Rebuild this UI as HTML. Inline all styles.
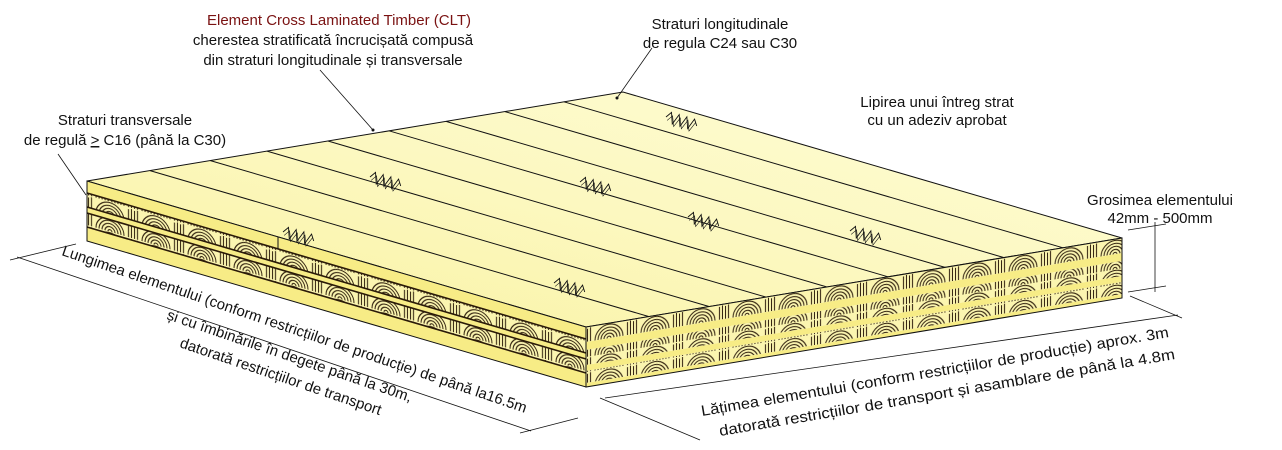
<!DOCTYPE html>
<html><head><meta charset="utf-8"><style>
html,body{margin:0;padding:0;background:#fff;}
svg{display:block;}
text{font-family:"Liberation Sans",sans-serif;font-size:15px;fill:#111;}
</style></head><body>
<svg width="1282" height="450" viewBox="0 0 1282 450" xmlns="http://www.w3.org/2000/svg">
<defs>
<linearGradient id="topg" x1="0" y1="1" x2="1" y2="0">
<stop offset="0" stop-color="#f9f2a0"/><stop offset="0.5" stop-color="#fcf8c0"/><stop offset="1" stop-color="#fefcd6"/>
</linearGradient>
<pattern id="rl" width="46" height="15" patternUnits="userSpaceOnUse" patternTransform="translate(87,195) skewY(16.3)">
<rect width="46" height="15" fill="#fbf5b0"/>
<g fill="none" stroke="#2a1a08" stroke-width="1">
<path d="M9 15 A14 14 0 0 1 37 15 M12 15 A11 11 0 0 1 34 15 M15 15 A8 8 0 0 1 31 15 M18 15 A5 5 0 0 1 28 15 M21 15 A2 2 0 0 1 25 15"/>
<path d="M1.5 2 V15 M4.5 1 V15 M41.5 2 V15 M44.5 1 V15"/>
</g></pattern>
<pattern id="rr" width="46" height="15" patternUnits="userSpaceOnUse" patternTransform="translate(586,327) skewY(-9.4)">
<rect width="46" height="15" fill="#fbf5b0"/>
<g fill="none" stroke="#2a1a08" stroke-width="1">
<path d="M9 15 A14 14 0 0 1 37 15 M12 15 A11 11 0 0 1 34 15 M15 15 A8 8 0 0 1 31 15 M18 15 A5 5 0 0 1 28 15 M21 15 A2 2 0 0 1 25 15"/>
<path d="M1.5 2 V15 M4.5 1 V15 M41.5 2 V15 M44.5 1 V15"/>
</g></pattern>
<g id="zz"><polyline points="0,0 4,-6 8,5 12,-6 16,5 20,-6 24,5 28,-6 32,0" fill="none" stroke="#111" stroke-width="0.9"/>
<polyline points="2,3 6,-3 10,7 14,-3 18,7 22,-3 26,7 30,-3" fill="none" stroke="#111" stroke-width="0.6"/></g>
</defs>

<polygon points="87,181 623,92 1122,238 586,327" fill="url(#topg)" stroke="#111" stroke-width="1"/>

<polygon points="87,181 586,327 586,339 87,193" fill="#f7ec86"/>
<polygon points="87,193 586,339 586,353 87,207" fill="url(#rl)"/>
<polygon points="87,207 586,353 586,359 87,213" fill="#f7ec86"/>
<polygon points="87,213 586,359 586,373 87,227" fill="url(#rl)"/>
<polygon points="87,227 586,373 586,387 87,241" fill="#f7ec86"/>
<g stroke="#2a1a08" stroke-width="1.6">
<line x1="87" y1="193" x2="586" y2="339"/><line x1="87" y1="207" x2="586" y2="353"/>
<line x1="87" y1="213" x2="586" y2="359"/><line x1="87" y1="227" x2="586" y2="373"/>
</g>
<polygon points="87,181 586,327 586,387 87,241" fill="none" stroke="#111" stroke-width="1"/>
<line x1="278" y1="237" x2="278" y2="249" stroke="#111"/>

<polygon points="586,327 1122,238 1122,253 586,342" fill="url(#rr)"/>
<polygon points="586,342 1122,253 1122,261 586,350" fill="#f7ec86"/>
<polygon points="586,350 1122,261 1122,276 586,365" fill="url(#rr)"/>
<polygon points="586,365 1122,276 1122,282 586,371" fill="#f7ec86"/>
<polygon points="586,371 1122,282 1122,294 586,383" fill="url(#rr)"/>
<polygon points="586,383 1122,294 1122,298 586,387" fill="#f7ec86"/>
<polygon points="586,327 1122,238 1122,298 586,387" fill="none" stroke="#111" stroke-width="1"/>

<g stroke="#111" stroke-width="1">
<line x1="150" y1="170.6" x2="649" y2="316.6"/>
<line x1="210" y1="160.5" x2="709" y2="306.5"/>
<line x1="267" y1="151.1" x2="766" y2="297.1"/>
<line x1="328" y1="141" x2="827" y2="287"/>
<line x1="389" y1="130.8" x2="888" y2="276.8"/>
<line x1="446" y1="121.4" x2="945" y2="267.4"/>
<line x1="505" y1="111.6" x2="1004" y2="257.6"/>
<line x1="564" y1="101.8" x2="1063" y2="247.8"/>
</g>
<use href="#zz" transform="translate(370,177) rotate(16.3)"/>
<use href="#zz" transform="translate(283,232) rotate(16.3)"/>
<use href="#zz" transform="translate(580,182) rotate(16.3)"/>
<use href="#zz" transform="translate(666,117) rotate(16.3)"/>
<use href="#zz" transform="translate(688,217) rotate(16.3)"/>
<use href="#zz" transform="translate(850,231) rotate(16.3)"/>
<use href="#zz" transform="translate(554,283) rotate(16.3)"/>

<g stroke="#111" stroke-width="0.8" fill="none">
<line x1="320" y1="70" x2="373" y2="130"/>
<line x1="652" y1="48" x2="617" y2="98"/>
<line x1="58" y1="154" x2="86" y2="195"/>
</g>
<circle cx="373" cy="130" r="1.5" fill="#111"/><circle cx="617" cy="98" r="1.5" fill="#111"/>

<g stroke="#111" stroke-width="0.8" fill="none">
<line x1="17" y1="257" x2="531" y2="431"/>
<line x1="10" y1="260" x2="76" y2="244"/>
<line x1="520" y1="433" x2="578" y2="418"/>
<line x1="600" y1="398" x2="700" y2="440"/>
<line x1="605" y1="398" x2="1178" y2="315"/>
<line x1="1130" y1="296" x2="1182" y2="318"/>
<line x1="1155" y1="222" x2="1155" y2="292"/>
<line x1="1128" y1="230" x2="1166" y2="224"/>
<line x1="1128" y1="292" x2="1166" y2="286"/>
</g>

<text x="339" y="25" text-anchor="middle" style="fill:#7a1212">Element Cross Laminated Timber (CLT)</text>
<text x="333" y="45" text-anchor="middle">cherestea stratificată încrucișată compusă</text>
<text x="333" y="65" text-anchor="middle">din straturi longitudinale și transversale</text>
<text x="720" y="29" text-anchor="middle">Straturi longitudinale</text>
<text x="720" y="48" text-anchor="middle">de regula C24 sau C30</text>
<text x="937" y="107" text-anchor="middle">Lipirea unui întreg strat</text>
<text x="937" y="125" text-anchor="middle">cu un adeziv aprobat</text>
<text x="125" y="125" text-anchor="middle">Straturi transversale</text>
<text x="125" y="145" text-anchor="middle">de regulă <tspan text-decoration="underline">&gt;</tspan> C16 (până la C30)</text>
<text x="1160" y="205" text-anchor="middle">Grosimea elementului</text>
<text x="1160" y="223" text-anchor="middle">42mm - 500mm</text>
<g transform="translate(61,255) rotate(18.8)"><text x="0" y="0" textLength="490" lengthAdjust="spacingAndGlyphs">Lungimea elementului (conform restricțiilor de producție) de până la16.5m</text></g>
<g transform="translate(166,319) rotate(18.8)"><text x="0" y="0">și cu îmbinările în degete până la 30m,</text></g>
<g transform="translate(179,347) rotate(18.8)"><text x="0" y="0">datorată restricțiilor de transport</text></g>
<g transform="translate(702,416) rotate(-9.6)"><text x="0" y="0" textLength="474" lengthAdjust="spacingAndGlyphs">Lățimea elementului (conform restricțiilor de producție) aprox. 3m</text></g>
<g transform="translate(720,436) rotate(-9.6)"><text x="0" y="0" textLength="462" lengthAdjust="spacingAndGlyphs">datorată restricțiilor de transport și asamblare de până la 4.8m</text></g>
</svg>
</body></html>
